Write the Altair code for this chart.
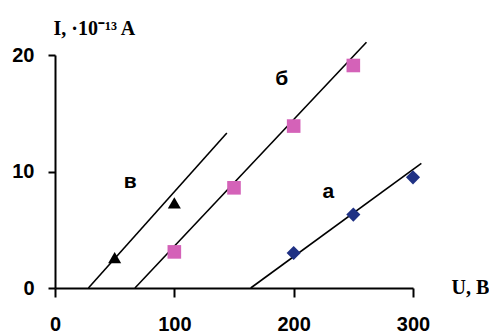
import altair as alt
import pandas as pd

# measured points
a_u = [200, 250, 300]
a_i = [3.0, 6.3, 9.5]
b_u = [100, 150, 200, 250]
b_i = [3.1, 8.6, 13.9, 19.1]
v_u = [50, 100]
v_i = [2.6, 7.3]

# fitted lines (endpoints)
la_u = [164, 307]
la_i = [0.0, 10.7]
lb_u = [67, 261]
lb_i = [0.0, 21.1]
lv_u = [28, 144]
lv_i = [0.0, 13.3]

# curve labels
lab_text = ["а", "б", "в"]
lab_u = [229, 190, 63]
lab_i = [8.2, 17.9, 9.1]

x_ticks = [0, 100, 200, 300]
y_ticks = [0, 10, 20]

pts = pd.concat([
    pd.DataFrame({"U": a_u, "I": a_i, "s": "a"}),
    pd.DataFrame({"U": b_u, "I": b_i, "s": "b"}),
    pd.DataFrame({"U": v_u, "I": v_i, "s": "v"}),
])
lines = pd.concat([
    pd.DataFrame({"U": la_u, "I": la_i, "s": "a"}),
    pd.DataFrame({"U": lb_u, "I": lb_i, "s": "b"}),
    pd.DataFrame({"U": lv_u, "I": lv_i, "s": "v"}),
])
labels = pd.DataFrame({"t": lab_text, "U": lab_u, "I": lab_i})

xs = alt.Scale(domain=[0, 300], nice=False)
ys = alt.Scale(domain=[0, 20], nice=False)

xax = alt.Axis(values=x_ticks, grid=False, domainColor="black", domainWidth=2,
               tickColor="black", tickWidth=2, tickSize=9, labelPadding=17,
               labelFlush=False,
               labelFont="Arial", labelFontWeight="bold", labelFontSize=20,
               labelColor="black", title="U, B", titleFont="Liberation Serif",
               titleFontWeight="bold", titleFontSize=20, titleColor="black",
               titleAngle=0, titleAlign="left", titleBaseline="middle",
               titleX=396, titleY=-1)
yax = alt.Axis(values=y_ticks, grid=False, domainColor="black", domainWidth=2,
               tickColor="black", tickWidth=2, tickSize=7, labelPadding=14,
               labelFlush=False,
               labelFont="Arial", labelFontWeight="bold", labelFontSize=20,
               labelColor="black", title="I, ·10⁻¹³ A", titleFont="Liberation Serif",
               titleFontWeight="bold", titleFontSize=20, titleColor="black",
               titleAngle=0, titleAlign="left", titleBaseline="alphabetic",
               titleX=-2, titleY=-21)

X = alt.X("U:Q", scale=xs, axis=xax)
Y = alt.Y("I:Q", scale=ys, axis=yax)

line_layer = alt.Chart(lines).mark_line(color="black", strokeWidth=1.6).encode(
    x=X, y=Y, detail="s:N",
)

pt_layer = alt.Chart(pts).mark_point(filled=True, opacity=1, strokeWidth=0).encode(
    x=X, y=Y,
    shape=alt.Shape("s:N", scale=alt.Scale(domain=["a", "b", "v"],
                    range=["diamond", "square", "triangle-up"]), legend=None),
    color=alt.Color("s:N", scale=alt.Scale(domain=["a", "b", "v"],
                    range=["#1f3184", "#d462b8", "#000000"]), legend=None),
    size=alt.Size("s:N", scale=alt.Scale(domain=["a", "b", "v"],
                  range=[200, 170, 200]), legend=None),
)

text_layer = alt.Chart(labels).mark_text(font="Arial", fontWeight="bold",
                                          fontSize=21, color="black").encode(
    x=X, y=Y, text="t:N",
)

chart = alt.layer(line_layer, pt_layer, text_layer).properties(
    width=358, height=233,
    autosize=alt.AutoSizeParams(type="none"),
    padding={"left": 47, "top": 47, "right": 76, "bottom": 48},
    background="white",
).configure_view(strokeWidth=0)

chart.save("out.html", embed_options={"renderer": "svg", "actions": False})
